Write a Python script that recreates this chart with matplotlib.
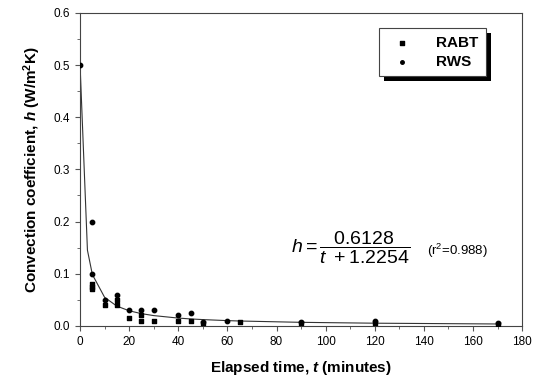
import numpy as np
import matplotlib
matplotlib.use('Agg')
import matplotlib.pyplot as plt
from matplotlib.ticker import MultipleLocator
from matplotlib.patches import Rectangle

plt.rcParams['font.family'] = 'Liberation Sans'
plt.rcParams['mathtext.fontset'] = 'custom'
plt.rcParams['mathtext.rm'] = 'Liberation Sans'
plt.rcParams['mathtext.it'] = 'Liberation Sans:italic'
plt.rcParams['mathtext.bf'] = 'Liberation Sans:bold'
plt.rcParams['mathtext.bfit'] = 'Liberation Sans:italic:bold'

# RABT measurements
rabt_t = [5, 5, 5, 10, 15, 15, 20, 25, 25, 30, 40, 45, 50, 65, 90, 120, 170]
rabt_h = [0.08, 0.075, 0.07, 0.04, 0.05, 0.04, 0.015, 0.02, 0.01, 0.01,
          0.01, 0.01, 0.005, 0.007, 0.005, 0.005, 0.004]

# RWS measurements
rws_t = [0, 5, 5, 10, 15, 20, 25, 30, 40, 45, 50, 60, 90, 120, 170]
rws_h = [0.5, 0.2, 0.1, 0.05, 0.06, 0.03, 0.03, 0.03, 0.02, 0.025,
         0.008, 0.01, 0.008, 0.009, 0.005]

# fitted model h = a / (t + b)
fit_a, fit_b = 0.6128, 1.2254
fit_t = np.array([0, 3, 5, 10, 15, 20, 25, 30, 40, 45, 50, 60, 65, 90, 120, 170])
fit_h = fit_a / (fit_t + fit_b)

fig = plt.figure(figsize=(5.41, 3.78), dpi=100)
ax = fig.add_axes([0.148, 0.138, 0.817, 0.828])

ax.plot(fit_t, fit_h, color='#333333', lw=0.8, zorder=2)
ax.scatter(rabt_t, rabt_h, marker='s', s=9, color='black', zorder=3, label='RABT')
ax.scatter(rws_t, rws_h, marker='o', s=10, color='black', zorder=3, label='RWS')

ax.set_xlim(0, 180)
ax.set_ylim(0, 0.6)
ax.xaxis.set_major_locator(MultipleLocator(20))
ax.xaxis.set_minor_locator(MultipleLocator(10))
ax.yaxis.set_major_locator(MultipleLocator(0.1))
ax.yaxis.set_minor_locator(MultipleLocator(0.05))
ax.yaxis.set_major_formatter(matplotlib.ticker.FormatStrFormatter('%.1f'))
ax.tick_params(which='both', direction='out', labelsize=8.5, color='#555555')
ax.tick_params(which='major', length=3.5)
ax.tick_params(which='minor', length=2)
for s in ax.spines.values():
    s.set_linewidth(0.8)
    s.set_color('#444444')

ax.set_xlabel(r'Elapsed time, $\mathbfit{t}$ (minutes)', fontsize=11, fontweight='bold', labelpad=8)
ax.set_ylabel(r'Convection coefficient, $\mathbfit{h}$ (W/m$^\mathbf{2}$K)', fontsize=11, fontweight='bold', labelpad=8)

leg = ax.legend(loc='upper right', bbox_to_anchor=(0.935, 0.975), frameon=True,
                fancybox=False, prop={'weight': 'bold', 'size': 11}, handletextpad=1.2,
                borderpad=0.5, labelspacing=0.3, markerscale=0.8)
leg.get_frame().set_edgecolor('#444444')
leg.get_frame().set_linewidth(0.8)
leg.get_frame().set_alpha(1)
leg.set_zorder(6)

# solid drop shadow behind the legend box
fig.canvas.draw()
bb = leg.get_window_extent().transformed(fig.transFigure.inverted())
dx, dy = 5 / 541, -5 / 378
ax.add_patch(Rectangle((bb.x0 + dx, bb.y0 + dy), bb.width, bb.height,
                       transform=fig.transFigure, facecolor='black',
                       edgecolor='none', zorder=5.5, clip_on=False))

ax.text(0.478, 0.25, r'$h = \dfrac{0.6128}{t\ + 1.2254}$', transform=ax.transAxes,
        fontsize=14, va='center', ha='left')
ax.text(0.785, 0.24, r'(r$^2$=0.988)', transform=ax.transAxes, fontsize=9.5,
        va='center', ha='left')

fig.savefig('out.png', dpi=100)
